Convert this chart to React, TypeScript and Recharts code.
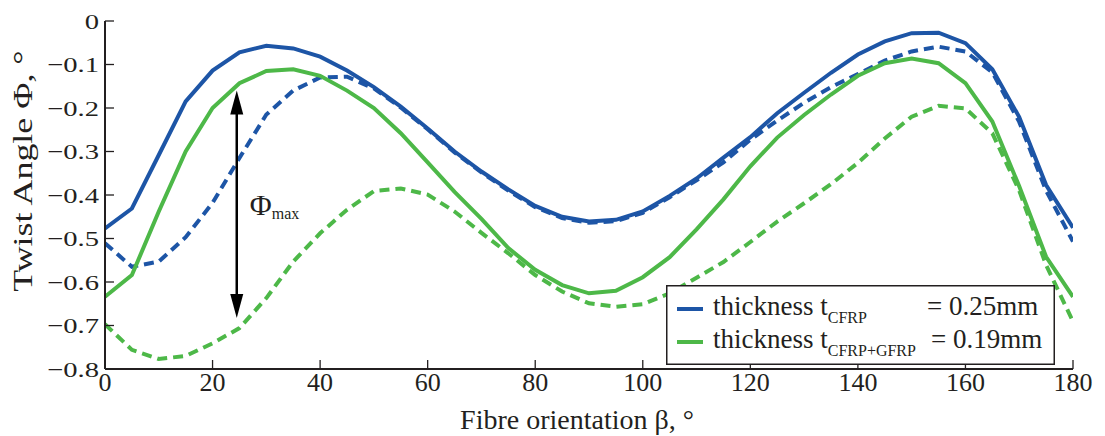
import React from "react";
import {
  LineChart,
  Line,
  XAxis,
  YAxis,
  Legend,
  ReferenceLine,
} from "recharts";

const angles = [
  0, 5, 10, 15, 20, 25, 30, 35, 40, 45, 50, 55, 60, 65, 70, 75, 80, 85, 90, 95,
  100, 105, 110, 115, 120, 125, 130, 135, 140, 145, 150, 155, 160, 165, 170,
  175, 180,
];
const blueSolid = [
  -0.477, -0.431, -0.308, -0.185, -0.114, -0.072, -0.057, -0.063, -0.082,
  -0.114, -0.152, -0.197, -0.247, -0.3, -0.346, -0.387, -0.425, -0.45, -0.461,
  -0.457, -0.438, -0.402, -0.362, -0.314, -0.267, -0.212, -0.165, -0.119,
  -0.077, -0.047, -0.028, -0.027, -0.051, -0.111, -0.221, -0.377, -0.475,
];
const blueDashed = [
  -0.511, -0.565, -0.553, -0.497, -0.418, -0.315, -0.215, -0.16, -0.13, -0.128,
  -0.155, -0.199, -0.249, -0.302, -0.348, -0.39, -0.428, -0.453, -0.464, -0.46,
  -0.441, -0.405, -0.366, -0.325, -0.273, -0.229, -0.188, -0.152, -0.122,
  -0.091, -0.07, -0.059, -0.07, -0.118, -0.232, -0.39, -0.507,
];
const greenSolid = [
  -0.634, -0.584, -0.438, -0.3, -0.2, -0.143, -0.115, -0.111, -0.126, -0.16,
  -0.2, -0.258, -0.325, -0.393, -0.455, -0.522, -0.572, -0.607, -0.626, -0.62,
  -0.589, -0.543, -0.479, -0.41, -0.334, -0.268, -0.216, -0.169, -0.126, -0.097,
  -0.086, -0.097, -0.143, -0.231, -0.38, -0.542, -0.634,
];
const greenDashed = [
  -0.697, -0.756, -0.777, -0.77, -0.741, -0.706, -0.637, -0.553, -0.488,
  -0.434, -0.391, -0.385, -0.399, -0.438, -0.487, -0.534, -0.584, -0.622,
  -0.649, -0.657, -0.651, -0.626, -0.59, -0.554, -0.508, -0.461, -0.419,
  -0.375, -0.326, -0.27, -0.22, -0.195, -0.201, -0.258, -0.39, -0.561, -0.691,
];

const xTicks = [0, 20, 40, 60, 80, 100, 120, 140, 160, 180];
const yTicks = [-0.8, -0.7, -0.6, -0.5, -0.4, -0.3, -0.2, -0.1, 0];

const legendSubs = ["CFRP", "CFRP+GFRP"];
const legendValues = ["= 0.25mm", "= 0.19mm"];

// Φmax arrow (in data units)
const arrowAt = 24.5;
const arrowFrom = -0.16;
const arrowTo = -0.683;

const BLUE = "#1d55a6";
const GREEN = "#4db848";
const INK = "#231f20";
const FONT = "'Liberation Serif', 'Times New Roman', serif";

const data = angles.map((a, i) => ({
  angle: a,
  blueSolid: blueSolid[i],
  blueDashed: blueDashed[i],
  greenSolid: greenSolid[i],
  greenDashed: greenDashed[i],
}));

const fmtY = (v: number) => (v === 0 ? "0" : "\u2212" + Math.abs(v).toFixed(1));

const BottomTick = ({ x, y, payload }: any) => (
  <g>
    <line x1={x} y1={y} x2={x} y2={y - 9} stroke={INK} strokeWidth={1.3} />
    <text
      x={x}
      y={y + 22}
      textAnchor="middle"
      fontSize={26}
      fontFamily={FONT}
      fill={INK}
    >
      {payload.value}
    </text>
  </g>
);

const TopTick = ({ x, y }: any) => (
  <line x1={x} y1={y} x2={x} y2={y + 9} stroke={INK} strokeWidth={1.3} />
);

const LeftTick = ({ x, y, payload }: any) => (
  <g>
    <line x1={x} y1={y} x2={x + 9} y2={y} stroke={INK} strokeWidth={1.3} />
    <text
      transform={`translate(${x - 6},${y + 7.5}) scale(1.3,1)`}
      textAnchor="end"
      fontSize={22}
      fontFamily={FONT}
      fill={INK}
    >
      {fmtY(payload.value)}
    </text>
  </g>
);

const RightTick = ({ x, y }: any) => (
  <line x1={x} y1={y} x2={x - 9} y2={y} stroke={INK} strokeWidth={1.3} />
);

const XLabel = ({ viewBox }: any) => (
  <text
    x={viewBox.x + viewBox.width / 2 - 12}
    y={viewBox.y + 60}
    textAnchor="middle"
    fontSize={28}
    fontFamily={FONT}
    fill={INK}
  >
    Fibre orientation β, °
  </text>
);

const YLabel = ({ viewBox }: any) => (
  <text
    transform={`translate(${viewBox.x + 32},${viewBox.y + viewBox.height / 2 - 24}) rotate(-90) scale(1.33,1)`}
    textAnchor="middle"
    fontSize={27}
    fontFamily={FONT}
    fill={INK}
  >
    Twist Angle Φ, °
  </text>
);

const Arrow = (props: any) => {
  const { x1, y1, x2, y2 } = props;
  const x = (x1 + x2) / 2;
  const top = Math.min(y1, y2);
  const bot = Math.max(y1, y2);
  const mid = (top + bot) / 2;
  const head = 24;
  const hw = 6.5;
  return (
    <g>
      <line x1={x} y1={top + head - 2} x2={x} y2={bot - head + 2} stroke="#000" strokeWidth={2.5} />
      <polygon points={`${x},${top} ${x - hw},${top + head} ${x + hw},${top + head}`} fill="#000" />
      <polygon points={`${x},${bot} ${x - hw},${bot - head} ${x + hw},${bot - head}`} fill="#000" />
      <text x={x + 13} y={mid + 11} fontSize={30} fontFamily={FONT} fill={INK}>
        Φ
      </text>
      <text x={x + 35} y={mid + 15} fontSize={16} fontFamily={FONT} fill={INK}>
        max
      </text>
    </g>
  );
};

const LegendBox = ({ payload }: any) => {
  const items = (payload || []).filter((p: any) => p.type !== "none");
  return (
    <svg width={390} height={81} style={{ display: "block" }}>
      <rect x={0.75} y={0.75} width={387.5} height={78.5} fill="#fff" stroke={INK} strokeWidth={1.5} />
      {items.map((p: any, i: number) => {
        const cy = 24 + i * 33;
        return (
          <g key={i}>
            <line x1={11} y1={cy} x2={37} y2={cy} stroke={p.color} strokeWidth={4} />
            <text x={47} y={cy + 6} fontSize={27} fontFamily={FONT} fill={INK}>
              thickness t
              <tspan fontSize={16} dy={8}>
                {legendSubs[i]}
              </tspan>
            </text>
            <text x={261 + i * 4} y={cy + 6} fontSize={27} fontFamily={FONT} fill={INK}>
              {legendValues[i]}
            </text>
          </g>
        );
      })}
    </svg>
  );
};

export default function App() {
  return (
    <div style={{ position: "absolute", left: 0, top: 0, background: "#fff" }}>
      <LineChart
        width={1105}
        height={436}
        data={data}
        margin={{ top: 21, right: 32, left: 0, bottom: 0 }}
      >
        <XAxis
          xAxisId="b"
          dataKey="angle"
          type="number"
          domain={[0, 180]}
          ticks={xTicks}
          allowDataOverflow
          height={67}
          tickSize={0}
          tickMargin={0}
          tickLine={false}
          tick={<BottomTick />}
          axisLine={{ stroke: INK, strokeWidth: 2 }}
          label={{ content: <XLabel /> }}
        />
        <XAxis
          xAxisId="t"
          orientation="top"
          type="number"
          domain={[0, 180]}
          ticks={xTicks}
          allowDataOverflow
          height={0}
          tickSize={0}
          tickMargin={0}
          tickLine={false}
          tick={<TopTick />}
          axisLine={{ stroke: INK, strokeWidth: 2 }}
        />
        <YAxis
          yAxisId="l"
          type="number"
          domain={[-0.8, 0]}
          ticks={yTicks}
          allowDataOverflow
          width={105}
          tickSize={0}
          tickMargin={0}
          tickLine={false}
          tick={<LeftTick />}
          axisLine={{ stroke: INK, strokeWidth: 2 }}
          label={{ content: <YLabel /> }}
        />
        <YAxis
          yAxisId="r"
          orientation="right"
          type="number"
          domain={[-0.8, 0]}
          ticks={yTicks}
          allowDataOverflow
          width={0}
          tickSize={0}
          tickMargin={0}
          tickLine={false}
          tick={<RightTick />}
          axisLine={{ stroke: INK, strokeWidth: 2 }}
        />
        <Line
          xAxisId="b"
          yAxisId="l"
          dataKey="blueSolid"
          stroke={BLUE}
          strokeWidth={4}
          dot={false}
          isAnimationActive={false}
        />
        <Line
          xAxisId="b"
          yAxisId="l"
          dataKey="blueDashed"
          stroke={BLUE}
          strokeWidth={4}
          strokeDasharray="10 6"
          dot={false}
          legendType="none"
          isAnimationActive={false}
        />
        <Line
          xAxisId="b"
          yAxisId="l"
          dataKey="greenSolid"
          stroke={GREEN}
          strokeWidth={4}
          dot={false}
          isAnimationActive={false}
        />
        <Line
          xAxisId="b"
          yAxisId="l"
          dataKey="greenDashed"
          stroke={GREEN}
          strokeWidth={4}
          strokeDasharray="10 6"
          dot={false}
          legendType="none"
          isAnimationActive={false}
        />
        <ReferenceLine
          xAxisId="b"
          yAxisId="l"
          segment={[
            { x: arrowAt, y: arrowFrom },
            { x: arrowAt, y: arrowTo },
          ]}
          shape={Arrow}
        />
        <Legend
          layout="vertical"
          align="center"
          verticalAlign="middle"
          content={<LegendBox />}
          wrapperStyle={{ left: 666, top: 285, width: 390, height: 81 }}
        />
      </LineChart>
    </div>
  );
}
